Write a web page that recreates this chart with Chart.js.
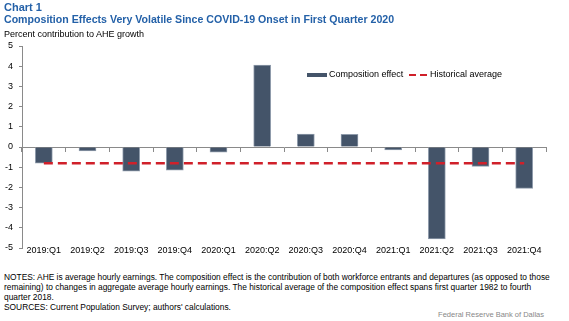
<!DOCTYPE html>
<html>
<head>
<meta charset="utf-8">
<script src="https://cdn.jsdelivr.net/npm/chart.js@4"></script>
<style>
  body { margin: 0; background: #fff; font-family: "Liberation Sans", Arial, sans-serif; }
  #wrap { position: relative; width: 569px; height: 321px; overflow: hidden; }
  .t { position: absolute; left: 4px; white-space: nowrap; }
  #h1 { top: 1px; font-size: 11px; font-weight: bold; color: #2461a8; }
  #h2 { top: 13px; font-size: 10.6px; font-weight: bold; color: #2461a8; }
  #sub { top: 29px; font-size: 9px; color: #000; }
  #notes { top: 272px; font-size: 8.4px; line-height: 10px; color: #000; }
  #src { position: absolute; right: 25px; top: 310px; font-size: 7.5px; color: #888; }
  #cv { position: absolute; left: 0; top: 0; }
  .leg { position: absolute; top: 69px; font-size: 9px; color: #000; }
  .sw { display: inline-block; vertical-align: middle; }
</style>
</head>
<body>
<div id="wrap">
  <canvas id="cv" width="569" height="268"></canvas>
  <div class="t" id="h1">Chart 1</div>
  <div class="t" id="h2">Composition Effects Very Volatile Since COVID-19 Onset in First Quarter 2020</div>
  <div class="t" id="sub">Percent contribution to AHE growth</div>
  <div class="leg" style="left:307px;"><span class="sw" style="width:20px;height:4px;background:#445469;margin-right:2px;"></span>Composition effect</div>
  <div class="leg" style="left:409px;"><span class="sw" style="width:7px;height:2px;background:#d0202a;margin-right:4px;"></span><span class="sw" style="width:7px;height:2px;background:#d0202a;margin-right:3px;"></span>Historical average</div>
  <div class="t" id="notes">NOTES: AHE is average hourly earnings. The composition effect is the contribution of both workforce entrants and departures (as opposed to those<br>remaining) to changes in aggregate average hourly earnings. The historical average of the composition effect spans first quarter 1982 to fourth<br>quarter 2018.<br>SOURCES: Current Population Survey; authors' calculations.</div>
  <div id="src">Federal Reserve Bank of Dallas</div>
</div>
<script>
// quarters and values
const quarters = ['2019:Q1', '2019:Q2', '2019:Q3', '2019:Q4', '2020:Q1', '2020:Q2',
                  '2020:Q3', '2020:Q4', '2021:Q1', '2021:Q2', '2021:Q3', '2021:Q4'];
const compositionEffect = [-0.8, -0.2, -1.2, -1.15, -0.26, 4.06, 0.64, 0.63, -0.15, -4.55, -0.96, -2.05];
const historicalAverage = [-0.8, -0.8, -0.8, -0.8, -0.8, -0.8, -0.8, -0.8, -0.8, -0.8, -0.8, -0.8];
const yTicks = [5, 4, 3, 2, 1, 0, -1, -2, -3, -4, -5];

const axisColor = '#8a8a8a';
const tickFont = { family: 'Liberation Sans, Arial, sans-serif', size: 9 };

new Chart(document.getElementById('cv').getContext('2d'), {
    type: 'bar',
    data: {
        labels: quarters,
        datasets: [
            {
                type: 'line',
                label: 'Historical average',
                data: historicalAverage,
                borderColor: '#d0202a',
                borderWidth: 2.5,
                borderDash: [9, 5],
                pointRadius: 0,
                fill: false,
                order: 0
            },
            {
                label: 'Composition effect',
                data: compositionEffect,
                backgroundColor: '#445469',
                borderColor: '#8f9bab',
                borderWidth: 1,
                barThickness: 17,
                order: 1
            }
        ]
    },
    options: {
        responsive: false,
        animation: false,
        layout: { padding: { top: 46, right: 23, left: 0, bottom: 0 } },
        plugins: { legend: { display: false }, tooltip: { enabled: false } },
        scales: {
            x: {
                position: 'bottom',
                grid: { display: false },
                border: { display: false },
                // mirror keeps the labels from being clipped to the axis box
                ticks: { font: tickFont, color: '#000', mirror: true, padding: -8, maxRotation: 0, autoSkip: false },
                afterFit: s => { s.height = 20; }
            },
            x0: {
                type: 'category',
                labels: quarters,
                position: { y: 0 },
                offset: true,
                grid: { display: true, offset: true, drawOnChartArea: false, tickLength: 4, color: axisColor },
                border: { color: axisColor, width: 1 },
                ticks: { display: false }
            },
            y: {
                min: -5,
                max: 5,
                afterBuildTicks: s => { s.ticks = yTicks.map(v => ({ value: v })); },
                grid: { drawOnChartArea: false, tickLength: 3, color: axisColor },
                border: { color: axisColor, width: 1 },
                ticks: { font: tickFont, color: '#000', padding: 6 },
                afterFit: s => { s.width = 22; }
            }
        }
    }
});
</script>
</body>
</html>
